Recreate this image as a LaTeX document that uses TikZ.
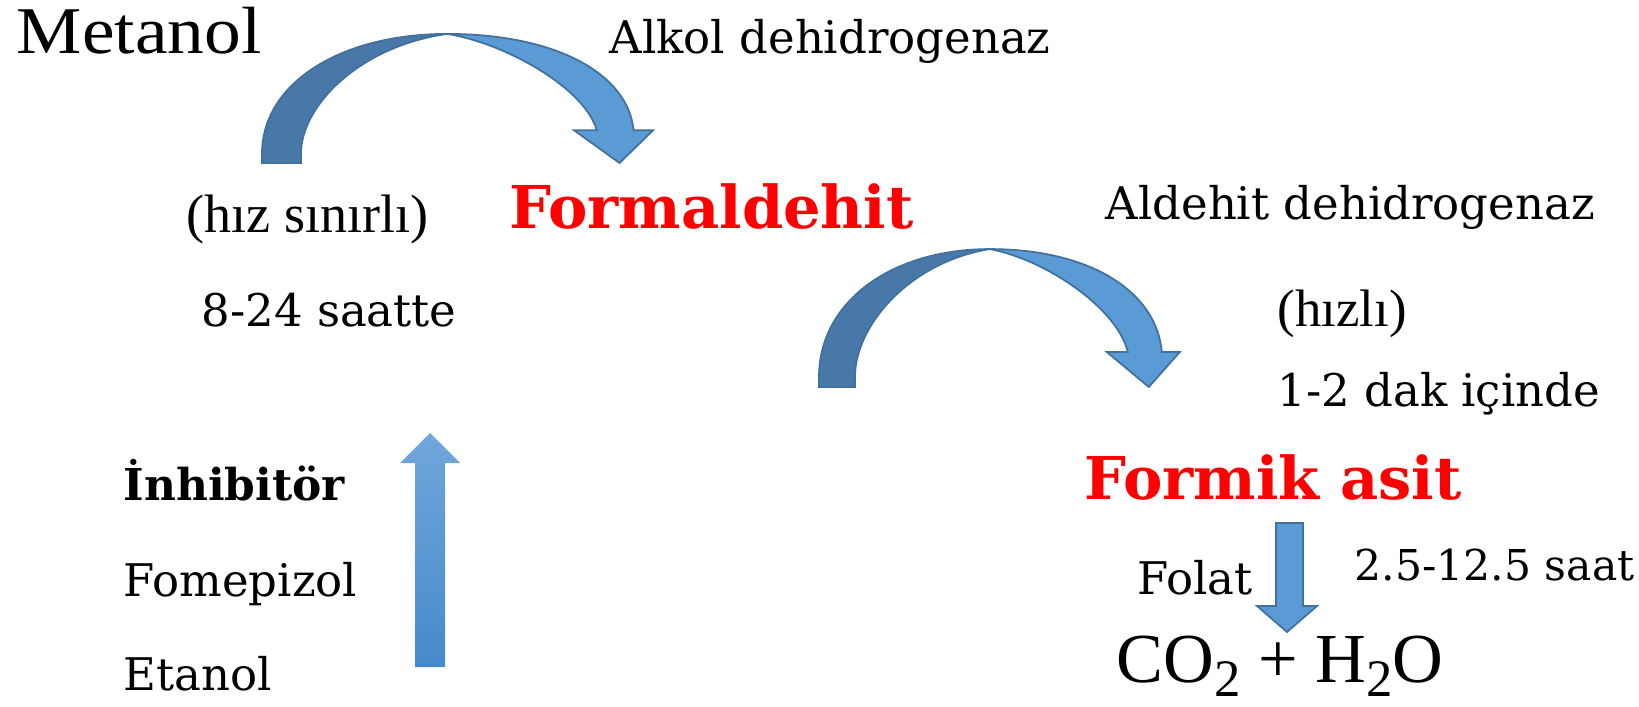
\documentclass[tikz,border=0pt]{standalone}
\usepackage{fontspec}
\setmainfont{DejaVu Serif}
\newfontfamily\timesfont{Liberation Serif}
\usepackage{xcolor}
\usepackage{tikz}
\usetikzlibrary{arrows.meta}
\definecolor{banddark}{RGB}{71,120,168}
\definecolor{bandlight}{RGB}{91,155,213}
\definecolor{bandedge}{RGB}{65,113,156}
\definecolor{uptop}{RGB}{112,167,219}
\definecolor{upbottom}{RGB}{70,138,203}
\tikzset{
  lbl/.style={anchor=base west, inner sep=0pt, font=\fontsize{12.8}{15}\selectfont},
  tlbl/.style={anchor=base west, inner sep=0pt, font=\timesfont\fontsize{15}{17}\selectfont},
  chem/.style={anchor=base west, inner sep=0pt, text=red, font=\bfseries\fontsize{16.8}{19}\selectfont},
  darkband/.style={fill=banddark, draw=bandedge, line width=0.5pt},
  lightband/.style={fill=bandlight, draw=bandedge, line width=0.5pt},
}
% curved arrow, drawn in units of the enclosing scope
\newcommand\bentarrow{%
  \draw[darkband] (0,0) -- (0,10) .. controls (0,85) and (72,138) .. (171,138)
    .. controls (90,125) and (36,61) .. (36,10) -- (36,0) -- cycle;
  \draw[lightband] (171,138) .. controls (272,138) and (338,95) .. (343,35)
    -- (361,35) -- (330,0) -- (288,35) -- (309,35)
    .. controls (298,80) and (225,128) .. (171,138) -- cycle;
}
\newcommand\subtwo{\raisebox{-0.45ex}{\fontsize{15}{15}\selectfont 2}}

\begin{document}
\begin{tikzpicture}
\useasboundingbox (0,0) rectangle (16.39,-7.07);
% texts
\node[tlbl, font=\timesfont\fontsize{19}{21}\selectfont] (metanol) at (0.16,-0.54) {\scalebox{1.1}[1]{Metanol}};
\node[lbl] (alkol) at (6.09,-0.54) {Alkol dehidrogenaz};
\node[tlbl, font=\timesfont\fontsize{15.4}{17}\selectfont] (hizsinirli) at (1.86,-2.32) {(hız sınırlı)};
\node[chem] (formaldehit) at (5.09,-2.28) {Formaldehit};
\node[lbl] (aldehit) at (11.05,-2.19) {Aldehit dehidrogenaz};
\node[lbl] (sure1) at (2.01,-3.26) {8-24 saatte};
\node[tlbl] (hizli) at (12.77,-3.26) {(hızlı)};
\node[lbl] (sure2) at (12.77,-4.06) {1-2 dak içinde};
\node[chem] (formik) at (10.84,-4.99) {Formik asit};
\node[lbl, font=\bfseries\fontsize{12.5}{15}\selectfont] (inhibitor) at (1.23,-5.00) {İnhibitör};
\node[lbl] (fomepizol) at (1.23,-5.96) {Fomepizol};
\node[lbl] (etanol) at (1.23,-6.90) {Etanol};
\node[lbl] (folat) at (11.37,-5.94) {Folat};
\node[lbl, font=\fontsize{12.1}{15}\selectfont] (sure3) at (13.54,-5.80) {2.5-12.5 saat};
\node[tlbl, font=\timesfont\fontsize{20}{22}\selectfont] (urun) at (11.16,-6.82) {CO\subtwo{} + H\subtwo{}O};
% curved arrows
\begin{scope}[shift={(2.62,-1.63)}, x=0.01083cm, y=0.00935cm]
  \bentarrow
\end{scope}
\begin{scope}[shift={(8.19,-3.87)}, x=0.01cm, y=0.01cm]
  \bentarrow
\end{scope}
% inhibitor arrow
\shade[top color=uptop, bottom color=upbottom] (4.15,-6.67) -- (4.15,-4.63) -- (4.00,-4.63)
  -- (4.30,-4.33) -- (4.60,-4.63) -- (4.45,-4.63) -- (4.45,-6.67) -- cycle;
% folat arrow
\draw[lightband] (12.76,-5.23) -- (12.76,-6.06) -- (12.57,-6.06) -- (12.87,-6.32)
  -- (13.17,-6.06) -- (13.03,-6.06) -- (13.03,-5.23) -- cycle;
\end{tikzpicture}
\end{document}
